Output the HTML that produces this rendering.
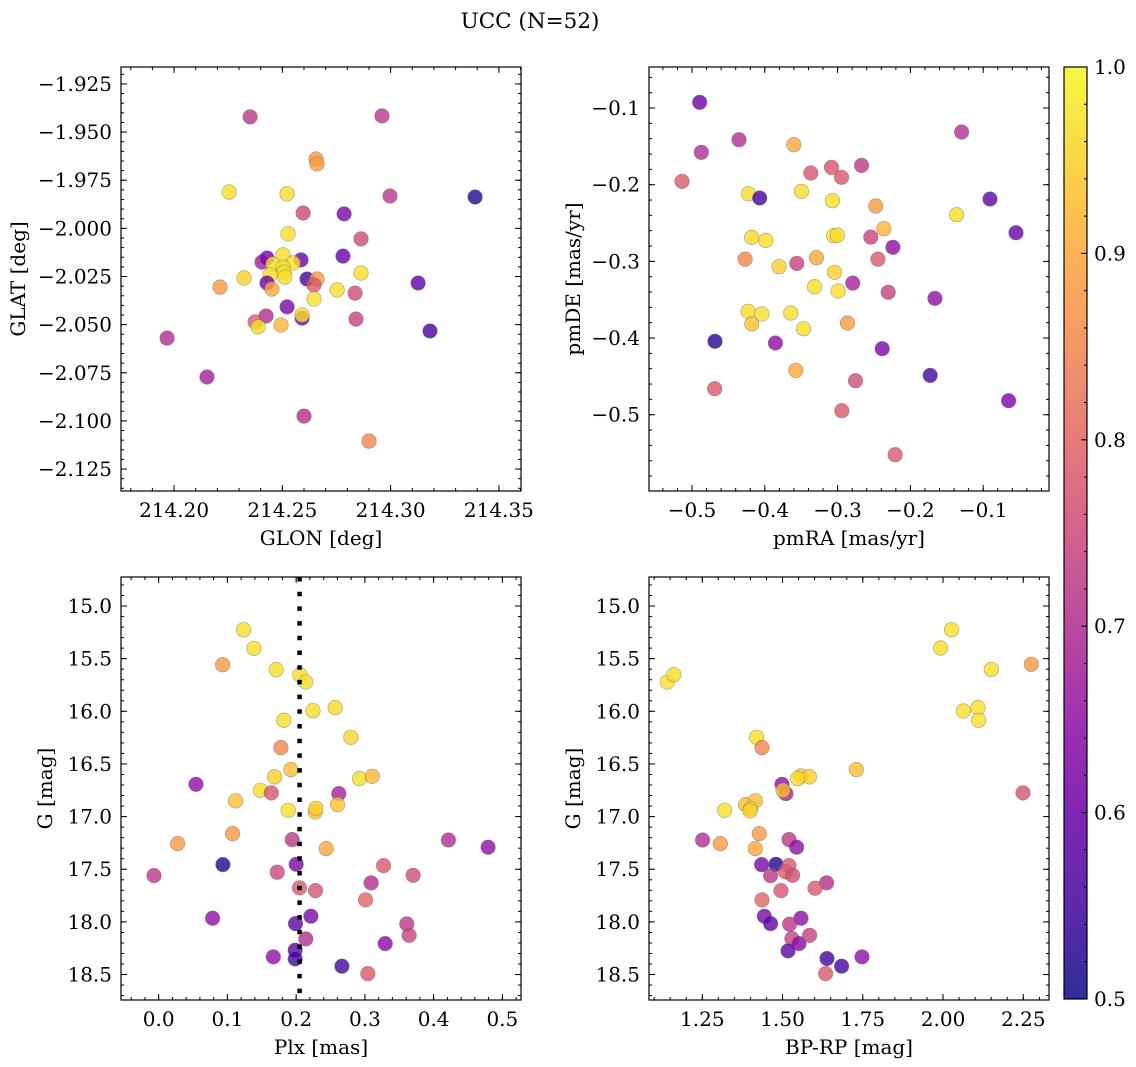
<!DOCTYPE html>
<html><head><meta charset="utf-8">
<style>
html,body{margin:0;padding:0;background:#fff;}
svg{display:block;font-family:"DejaVu Serif","Liberation Serif",serif;}
</style></head>
<body>
<svg id="fig" width="1136" height="1067" viewBox="0 0 1136 1067" xmlns="http://www.w3.org/2000/svg">
<defs>
<linearGradient id="plasmaGrad" x1="0" y1="1" x2="0" y2="0">
<stop offset="0" stop-color="#0d0887"/><stop offset="0.1" stop-color="#41049d"/><stop offset="0.2" stop-color="#6a00a8"/><stop offset="0.3" stop-color="#8f0da4"/><stop offset="0.4" stop-color="#b12a90"/><stop offset="0.5" stop-color="#cc4778"/><stop offset="0.6" stop-color="#e16462"/><stop offset="0.7" stop-color="#f2844b"/><stop offset="0.8" stop-color="#fca636"/><stop offset="0.9" stop-color="#fcce25"/><stop offset="1" stop-color="#f0f921"/>
</linearGradient>
</defs>
<text x="530" y="28" font-size="21.5" text-anchor="middle">UCC (N=52)</text>
</svg>
<script>
// ---- Panel 1: GLON / GLAT ----
const lon1 = [214.2526,214.2863,214.2780,214.2406,214.2429,214.2503,214.2586,214.2457,214.2549,214.2503,214.2863,214.2323,214.2212,214.2443,214.2508,214.2512,214.2429,214.2452,214.2614,214.2660,214.2646,214.2753,214.2836,214.2646,214.2522,214.2591,214.2591,214.2425,214.2374,214.2388,214.2494,214.2840,214.2351,214.2960,214.2656,214.2660,214.2254,214.2522,214.2997,214.3390,214.2596,214.2785,214.3127,214.3182,214.1968,214.2152,214.2600,214.2900];
const lat1 = [-2.0029,-2.0055,-2.0144,-2.0175,-2.0154,-2.0138,-2.0164,-2.0185,-2.0180,-2.0201,-2.0232,-2.0258,-2.0305,-2.0242,-2.0227,-2.0253,-2.0284,-2.0315,-2.0263,-2.0263,-2.0294,-2.0320,-2.0336,-2.0367,-2.0408,-2.0466,-2.0450,-2.0455,-2.0486,-2.0512,-2.0502,-2.0471,-1.9421,-1.9416,-1.9640,-1.9666,-1.9811,-1.9821,-1.9832,-1.9837,-1.9920,-1.9925,-2.0284,-2.0533,-2.0570,-2.0772,-2.0975,-2.1105];
const prob1 = [.97,.75,.6,.68,.62,.97,.6,.97,.97,.97,.97,.95,.88,.97,.97,.97,.6,.9,.55,.88,.78,.97,.76,.97,.62,.6,.97,.7,.78,.97,.92,.74,.72,.72,.88,.88,.97,.97,.72,.52,.75,.62,.58,.56,.7,.68,.7,.85];
const xticks1 = [214.20,214.25,214.30,214.35];
const yticks1 = [-1.925,-1.950,-1.975,-2.000,-2.025,-2.050,-2.075,-2.100,-2.125];

// ---- Panel 2: pmRA / pmDE ----
const pmra2 = [-0.4895,-0.4354,-0.4872,-0.5137,-0.3602,-0.3368,-0.3084,-0.2947,-0.2672,-0.1297,-0.4225,-0.4070,-0.3497,-0.3071,-0.2475,-0.1366,-0.0907,-0.0550,-0.4180,-0.3987,-0.3052,-0.3002,-0.2365,-0.2544,-0.2241,-0.4271,-0.3804,-0.3561,-0.3291,-0.2447,-0.3043,-0.2791,-0.3318,-0.2993,-0.2305,-0.1664,-0.4230,-0.4042,-0.3643,-0.4180,-0.3469,-0.2864,-0.4684,-0.3854,-0.2388,-0.3575,-0.2754,-0.1728,-0.0651,-0.4688,-0.2942,-0.2209];
const pmde2 = [-0.0926,-0.1413,-0.1578,-0.1957,-0.1478,-0.1848,-0.1774,-0.1904,-0.1748,-0.1313,-0.2117,-0.2174,-0.2087,-0.2209,-0.2278,-0.2391,-0.2187,-0.2626,-0.2687,-0.2726,-0.2665,-0.2657,-0.2574,-0.2683,-0.2817,-0.2970,-0.3070,-0.3026,-0.2952,-0.2970,-0.3143,-0.3283,-0.3330,-0.3387,-0.3404,-0.3483,-0.3652,-0.3687,-0.3674,-0.3817,-0.3878,-0.3804,-0.4043,-0.4065,-0.4139,-0.4422,-0.4557,-0.4487,-0.4817,-0.4661,-0.4948,-0.5522];
const prob2 = [.6,.7,.7,.78,.9,.77,.77,.77,.72,.7,.97,.55,.97,.97,.88,.97,.58,.6,.96,.97,.97,.97,.92,.74,.65,.85,.95,.74,.9,.78,.95,.68,.97,.97,.74,.65,.97,.97,.97,.93,.97,.88,.52,.65,.62,.9,.76,.55,.62,.78,.78,.78];
const xticks2 = [-0.5,-0.4,-0.3,-0.2,-0.1];
const yticks2 = [-0.1,-0.2,-0.3,-0.4,-0.5];

// ---- Panel 3: Plx / G ----
const plx3 = [0.1235,0.1386,0.0930,0.1710,0.2054,0.2137,0.2243,0.2568,0.1822,0.2796,0.1778,0.1923,0.1686,0.2922,0.3106,0.0543,0.1478,0.1638,0.2621,0.1119,0.2602,0.1885,0.2277,0.2287,0.1076,0.0276,0.1943,0.2437,0.4215,0.4792,0.0935,0.2001,0.3270,-0.0068,0.1725,0.3702,0.3091,0.2049,0.2282,0.3009,0.0785,0.2214,0.1991,0.3609,0.3643,0.2141,0.3295,0.1667,0.1986,0.1986,0.2665,0.3043];
const g3 = [15.225,15.402,15.557,15.604,15.652,15.722,15.994,15.965,16.085,16.247,16.345,16.554,16.623,16.639,16.617,16.693,16.750,16.775,16.782,16.851,16.886,16.940,16.956,16.921,17.161,17.256,17.218,17.304,17.222,17.291,17.456,17.453,17.465,17.560,17.528,17.557,17.630,17.677,17.703,17.791,17.965,17.946,18.016,18.019,18.127,18.161,18.206,18.332,18.269,18.351,18.421,18.491];
const prob3 = [.97,.97,.88,.97,.97,.97,.97,.96,.97,.96,.85,.93,.95,.97,.92,.65,.97,.77,.68,.93,.94,.97,.93,.95,.88,.88,.72,.9,.7,.65,.52,.62,.78,.72,.75,.76,.7,.78,.77,.8,.65,.62,.58,.72,.74,.7,.64,.65,.58,.55,.55,.78];
const plxLine = 0.205;
const xticks3 = [0.0,0.1,0.2,0.3,0.4,0.5];
const yticksG = [15.0,15.5,16.0,16.5,17.0,17.5,18.0,18.5];

// ---- Panel 4: BP-RP / G ----
const bprp4 = [1.1410,1.1617,2.0267,1.9925,2.1503,2.2749,2.0631,2.1088,2.1108,1.4193,1.4359,1.7298,1.5574,1.5833,1.5470,1.4982,1.5106,1.5013,2.2490,1.3196,1.3850,1.4151,1.4006,1.3985,1.2510,1.3061,1.4276,1.4151,1.5200,1.5439,1.4348,1.4795,1.5200,1.5096,1.4629,1.5314,1.6373,1.6010,1.4951,1.4359,1.4431,1.4629,1.5574,1.5221,1.5293,1.5512,1.5844,1.5169,1.6384,1.6841,1.7474,1.6342];
const g4 = [15.722,15.652,15.225,15.399,15.601,15.554,15.997,15.965,16.085,16.247,16.345,16.554,16.614,16.623,16.639,16.693,16.782,16.750,16.775,16.940,16.886,16.851,16.924,16.946,17.222,17.256,17.161,17.304,17.218,17.291,17.456,17.453,17.465,17.525,17.560,17.557,17.630,17.680,17.703,17.791,17.946,18.016,17.965,18.022,18.158,18.206,18.127,18.275,18.348,18.421,18.332,18.491];
const prob4 = [.97,.97,.97,.97,.97,.88,.97,.97,.97,.97,.85,.93,.93,.95,.97,.65,.68,.93,.77,.97,.93,.93,.97,.95,.7,.88,.88,.9,.72,.65,.62,.52,.78,.78,.72,.76,.7,.78,.77,.8,.62,.58,.65,.72,.74,.64,.74,.58,.55,.55,.65,.78];
const xticks4 = [1.25,1.50,1.75,2.00,2.25];

const cbTicks = [0.5,0.6,0.7,0.8,0.9,1.0];

const NS = "http://www.w3.org/2000/svg";
const svg = document.getElementById('fig');
const FS = 20;
function mk(tag, attrs, parent){
  const e = document.createElementNS(NS, tag);
  for (const k in attrs) e.setAttribute(k, attrs[k]);
  (parent||svg).appendChild(e);
  return e;
}
const stops = [[0,[13,8,135]],[0.1,[65,4,157]],[0.2,[106,0,168]],[0.3,[143,13,164]],[0.4,[177,42,144]],[0.5,[204,71,120]],[0.6,[225,100,98]],[0.7,[242,132,75]],[0.8,[252,166,54]],[0.9,[252,206,37]],[1,[240,249,33]]];
function plasma(t){
  t = Math.max(0, Math.min(1, t));
  for (let i=1;i<stops.length;i++){
    if (t <= stops[i][0]){
      const a = stops[i-1], b = stops[i];
      const f = (t-a[0])/(b[0]-a[0]);
      const c = a[1].map((v,j)=>Math.round(v+(b[1][j]-v)*f));
      return 'rgb('+c.join(',')+')';
    }
  }
  return 'rgb(240,249,33)';
}
function fmt(v, d){ const s = Math.abs(v).toFixed(d); return (v < -1e-9 ? '\u2212' : '') + s; }
function scale(d0, d1, r0, r1){ return v => r0 + (v-d0)/(d1-d0)*(r1-r0); }

function panel(cfg){
  const [L,T,R,B] = cfg.box;
  const g = mk('g', {});
  
  
  const sx = scale(cfg.xd[0], cfg.xd[1], L, R);
  const sy = scale(cfg.yd[0], cfg.yd[1], T, B);
  const pg = mk('g', {}, g);
  
  
  for (let i=0;i<cfg.xs.length;i++){
    const c = mk('circle', {cx: sx(cfg.xs[i]).toFixed(1), cy: sy(cfg.ys[i]).toFixed(1), r: 7.3,
      fill: plasma((cfg.cs[i]-0.5)/0.5), 'fill-opacity': 0.8, stroke: '#6b6b6b', 'stroke-opacity': 0.6, 'stroke-width': 0.6}, pg);
    
    
  }
  if (cfg.vline !== undefined){
    const ln = mk('line', {x1: sx(cfg.vline), x2: sx(cfg.vline), y1: T, y2: B, stroke: '#000', 'stroke-width': 4.5, 'stroke-dasharray': '4.5 10.2'}, g);
    
    
  }
  const fr = mk('rect', {x: L, y: T, width: R-L, height: B-T, fill: 'none', stroke: '#000', 'stroke-width': 1.2}, g);
  
  
  const tg = mk('g', {stroke: '#000', 'stroke-width': 1}, g);
  const xmin = Math.min(cfg.xd[0], cfg.xd[1]), xmax = Math.max(cfg.xd[0], cfg.xd[1]);
  const ymin = Math.min(cfg.yd[0], cfg.yd[1]), ymax = Math.max(cfg.yd[0], cfg.yd[1]);
  for (let k=Math.ceil(xmin/cfg.xm - 1e-6); k*cfg.xm<=xmax; k++){
    const x = sx(k*cfg.xm);
    mk('line', {x1:x, x2:x, y1:B, y2:B-3}, tg); mk('line', {x1:x, x2:x, y1:T, y2:T+3}, tg);
  }
  for (let k=Math.ceil(ymin/cfg.ym - 1e-6); k*cfg.ym<=ymax; k++){
    const y = sy(k*cfg.ym);
    mk('line', {x1:L, x2:L+3, y1:y, y2:y}, tg); mk('line', {x1:R, x2:R-3, y1:y, y2:y}, tg);
  }
  cfg.xt.forEach(v => {
    const x = sx(v);
    mk('line', {x1:x, x2:x, y1:B, y2:B-6}, tg); mk('line', {x1:x, x2:x, y1:T, y2:T+6}, tg);
    const t = mk('text', {x: x, y: B+26, 'font-size': FS, 'text-anchor': 'middle'}, g);
    t.textContent = fmt(v, cfg.xf);
    
    
  });
  cfg.yt.forEach(v => {
    const y = sy(v);
    mk('line', {x1:L, x2:L+6, y1:y, y2:y}, tg); mk('line', {x1:R, x2:R-6, y1:y, y2:y}, tg);
    const t = mk('text', {x: L-9, y: y+7, 'font-size': FS, 'text-anchor': 'end'}, g);
    t.textContent = fmt(v, cfg.yf);
    
    
  });
  const xl = mk('text', {x: (L+R)/2, y: B+54, 'font-size': FS, 'text-anchor': 'middle'}, g);
  xl.textContent = cfg.xlabel;
  
  
  const yx = cfg.ylx, yc = (T+B)/2;
  const yl = mk('text', {x: yx, y: yc, 'font-size': FS, 'text-anchor': 'middle', transform: 'rotate(-90 '+yx+' '+yc+')'}, g);
  yl.textContent = cfg.ylabel;
  
  
}

panel({name:'panel-glon-glat', box:[121,67,521,491], xd:[214.1755,214.3602], yd:[-1.9162,-2.1364], xs:lon1, ys:lat1, cs:prob1, xt:xticks1, yt:yticks1, xm:0.01, ym:0.005, xf:2, yf:3, xlabel:'GLON [deg]', ylabel:'GLAT [deg]', ylx:25});
panel({name:'panel-pm', box:[649,67,1049,491], xd:[-0.5591,-0.0096], yd:[-0.0465,-0.5995], xs:pmra2, ys:pmde2, cs:prob2, xt:xticks2, yt:yticks2, xm:0.02, ym:0.02, xf:1, yf:1, xlabel:'pmRA [mas/yr]', ylabel:'pmDE [mas/yr]', ylx:580});
panel({name:'panel-plx-g', box:[121,577,521,1000], xd:[-0.0548,0.5271], yd:[14.7246,18.7417], xs:plx3, ys:g3, cs:prob3, xt:xticks3, yt:yticksG, xm:0.02, ym:0.1, xf:1, yf:1, xlabel:'Plx [mas]', ylabel:'G [mag]', ylx:52, vline:plxLine});
panel({name:'panel-cmd', box:[649,577,1049,1000], xd:[1.0840,2.3301], yd:[14.7246,18.7417], xs:bprp4, ys:g4, cs:prob4, xt:xticks4, yt:yticksG, xm:0.05, ym:0.1, xf:2, yf:1, xlabel:'BP-RP [mag]', ylabel:'G [mag]', ylx:580});

const cb = mk('g', {});


const cT = 67, cB = 999, cL = 1064, cR = 1087;
mk('rect', {x:cL, y:cT, width:cR-cL, height:cB-cT, fill:'url(#plasmaGrad)', 'fill-opacity':0.85}, cb);
mk('rect', {x:cL, y:cT, width:cR-cL, height:cB-cT, fill:'none', stroke:'#000', 'stroke-width':1.2}, cb);
const cs = scale(0.5, 1.0, cB, cT);
for (let k=25;k<=50;k++){ const y = cs(k*0.02); mk('line', {x1:cR, x2:cR-3, y1:y, y2:y, stroke:'#000'}, cb); }
cbTicks.forEach(v => {
  const y = cs(v);
  mk('line', {x1:cR, x2:cR-6, y1:y, y2:y, stroke:'#000'}, cb);
  const t = mk('text', {x: cR+7, y: y+7, 'font-size': FS}, cb);
  t.textContent = v.toFixed(1);
  
  
});
</script>
</body></html>
